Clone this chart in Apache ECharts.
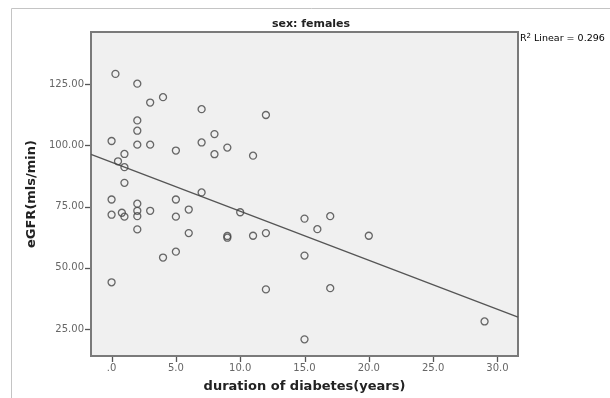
<!DOCTYPE html>
<html>
<head>
<meta charset="utf-8">
<script src="https://cdn.jsdelivr.net/npm/echarts@6/dist/echarts.min.js"></script>
<style>html,body{margin:0;padding:0;background:#fff;}#c{width:610px;height:398px;}</style>
</head>
<body>
<div id="c"></div>
<script>
// duration of diabetes (years)
const durationYears = [0.3, 2, 3, 4, 7, 12, 2, 2, 0, 2, 3, 8, 7, 5, 9, 8, 11, 1, 0.5, 1, 1, 7, 0, 5, 10, 0, 0.8, 1, 2, 2, 2, 3, 5, 6, 2, 6, 9, 9, 11, 12, 5, 4, 0, 12, 15, 17, 16, 20, 15, 17, 29, 15];
// eGFR (mls/min)
const eGFR = [129.2, 125.2, 117.5, 119.7, 114.8, 112.4, 110.2, 106.0, 101.8, 100.3, 100.3, 104.6, 101.2, 97.9, 99.1, 96.4, 95.8, 96.5, 93.5, 91.1, 84.7, 80.8, 77.9, 77.9, 72.7, 71.7, 72.5, 70.9, 76.2, 73.3, 71.1, 73.3, 70.9, 73.8, 65.7, 64.2, 63.0, 62.3, 63.1, 64.2, 56.6, 54.2, 44.1, 41.2, 70.1, 71.1, 65.8, 63.1, 55.0, 41.7, 28.1, 20.8];
// fitted linear line: [intercept, slope]
const fitLine = [93.1, -2.0];
const xTicks = [0, 5, 10, 15, 20, 25, 30];
const xTickLabels = ['.0', '5.0', '10.0', '15.0', '20.0', '25.0', '30.0'];
const yTicks = [25, 50, 75, 100, 125];
const yTickLabels = ['25.00', '50.00', '75.00', '100.00', '125.00'];
const xRange = [-1.6, 31.6];
const yRange = [14.0, 146.3];

const points = durationYears.map((x, i) => [x, eGFR[i]]);
const lineData = [xRange[0], xRange[1]].map(x => [x, fitLine[0] + fitLine[1] * x]);
const tickMarks = xTicks.map(v => [v, yRange[0], 'x']).concat(yTicks.map(v => [xRange[0], v, 'y']));

const FONT = 'DejaVu Sans';
const chart = echarts.init(document.getElementById('c'), null, {renderer: 'canvas'});
chart.setOption({
  animation: false,
  backgroundColor: '#fff',
  grid: {
    left: 91, top: 32, right: 92, bottom: 41,
    show: true, backgroundColor: '#f0f0f0', borderColor: '#7a7a7a', borderWidth: 2
  },
  graphic: [
    {type: 'rect', z: -10, shape: {x: 11.5, y: 8.5, width: 620, height: 400}, style: {fill: 'none', stroke: '#c4c4c4', lineWidth: 1}},
    {type: 'text', x: 311, y: 24, style: {text: 'sex: females', font: 'bold 11px "DejaVu Sans"', fill: '#222', textAlign: 'center', textVerticalAlign: 'middle'}},
    {type: 'text', x: 520, y: 39, style: {
      text: '{a|R}{s|2}{a| Linear = 0.296}',
      textVerticalAlign: 'middle',
      rich: {
        a: {fontFamily: FONT, fontSize: 9.5, color: '#333'},
        s: {fontFamily: FONT, fontSize: 7, color: '#333', verticalAlign: 'top', padding: [0, 0, 5, 0]}
      }
    }}
  ],
  xAxis: {
    type: 'value', min: xRange[0], max: xRange[1],
    name: 'duration of diabetes(years)', nameLocation: 'middle', nameGap: 24,
    nameTextStyle: {fontFamily: FONT, fontWeight: 'bold', fontSize: 13, color: '#222'},
    axisLine: {show: false, onZero: false},
    splitLine: {show: false},
    axisTick: {show: false},
    axisLabel: {
      customValues: xTicks, margin: 7,
      fontFamily: FONT, fontSize: 10, color: '#666',
      formatter: v => xTickLabels[xTicks.indexOf(Math.round(v))] ?? ''
    }
  },
  yAxis: {
    type: 'value', min: yRange[0], max: yRange[1],
    name: 'eGFR(mls/min)', nameLocation: 'middle', nameGap: 50,
    nameTextStyle: {fontFamily: FONT, fontWeight: 'bold', fontSize: 13, color: '#222'},
    axisLine: {show: false, onZero: false},
    splitLine: {show: false},
    axisTick: {show: false},
    axisLabel: {
      customValues: yTicks, margin: 7,
      fontFamily: FONT, fontSize: 10, color: '#666',
      formatter: v => yTickLabels[yTicks.indexOf(Math.round(v))] ?? ''
    }
  },
  series: [
    {
      type: 'custom', data: tickMarks, clip: false, silent: true, z: 5,
      renderItem: (params, api) => {
        const p = api.coord([api.value(0), api.value(1)]);
        const isX = tickMarks[params.dataIndex][2] === 'x';
        const shape = isX
          ? {x1: Math.round(p[0]) + 0.5, y1: p[1] + 1, x2: Math.round(p[0]) + 0.5, y2: p[1] + 6}
          : {x1: p[0] - 1, y1: Math.round(p[1]) + 0.5, x2: p[0] - 6, y2: Math.round(p[1]) + 0.5};
        return {type: 'line', shape, style: {stroke: '#555', lineWidth: 1.3}};
      }
    },
    {
      type: 'line', data: lineData, showSymbol: false, silent: true,
      lineStyle: {color: '#555', width: 1.3}, z: 2
    },
    {
      type: 'scatter', data: points, symbol: 'circle', symbolSize: 7,
      itemStyle: {color: 'rgba(0,0,0,0)', borderColor: '#444', borderWidth: 1.3}, z: 3
    }
  ]
});
</script>
</body>
</html>
